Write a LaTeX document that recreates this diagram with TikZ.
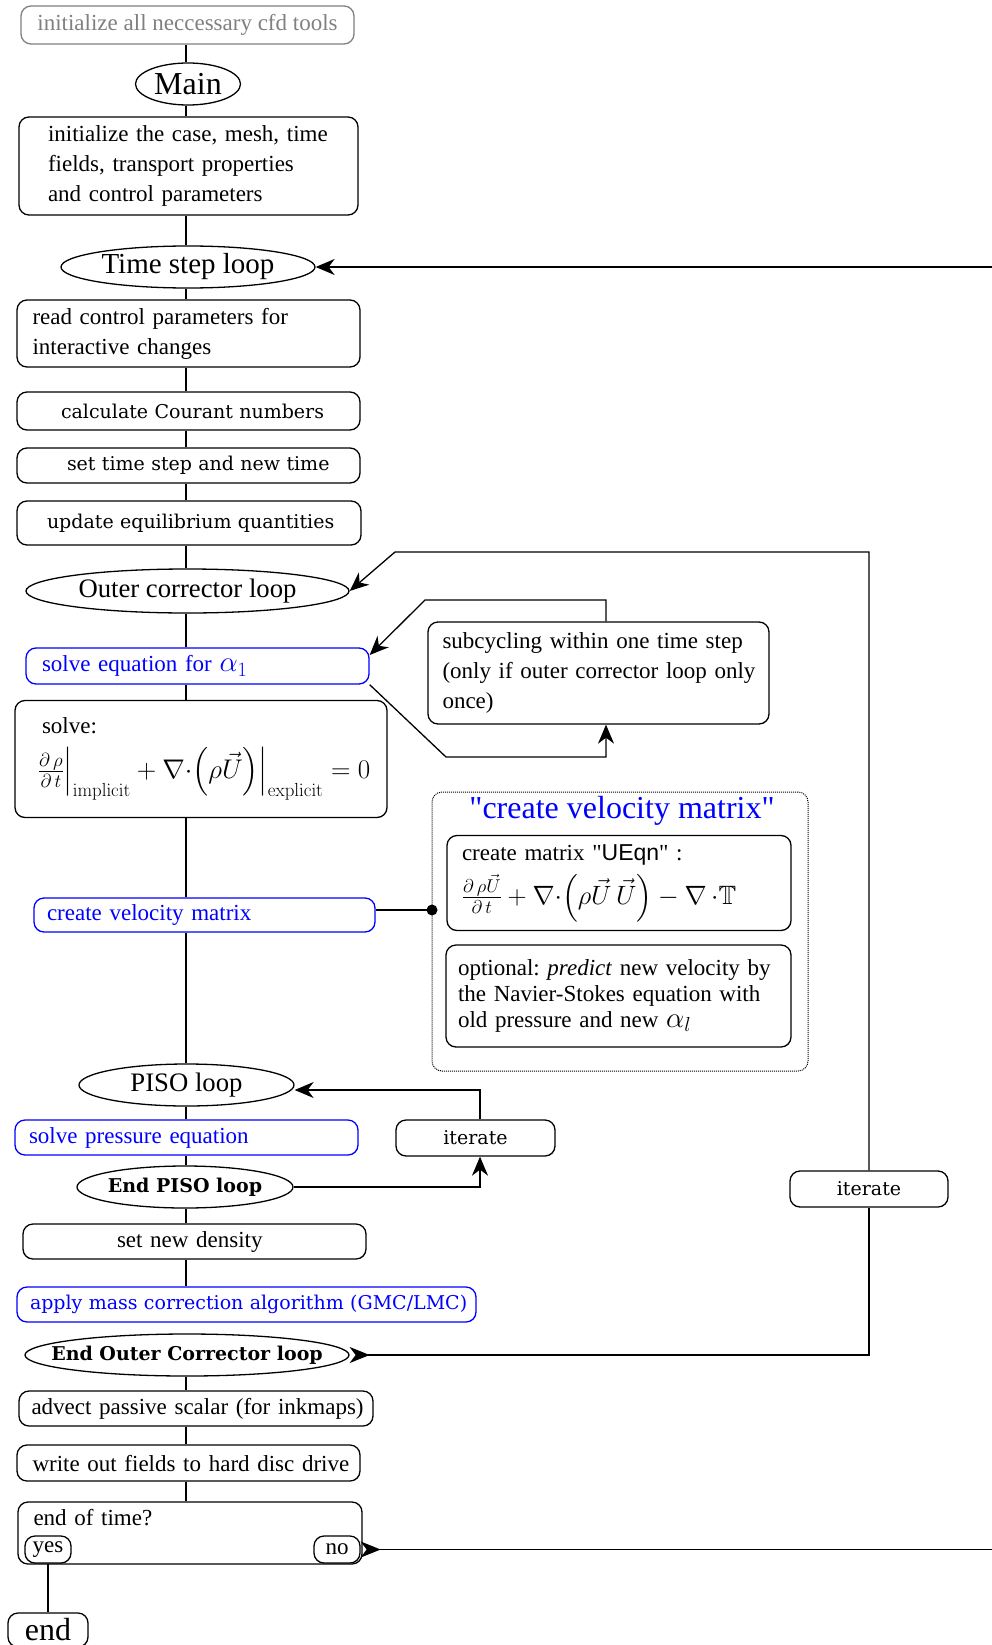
\documentclass[tikz,border=0pt]{standalone}
\usepackage{fix-cm}
\usepackage{amsmath,amssymb}
\usepackage[no-math]{fontspec}
\setmainfont{Liberation Serif}
\newfontfamily\rmq{Liberation Serif}
\newfontfamily\dvs{DejaVu Serif}
\newfontfamily\arl{Liberation Sans}
\usetikzlibrary{shapes.geometric,arrows.meta}
\newcommand\fsz[2]{\fontsize{#1}{#2}\selectfont}
\newcommand\qq{{\rmq"}}
\frenchspacing
\tikzset{
  lw/.style={line width=1.3pt},
  bx/.style={draw, lw, rounded corners=10pt, inner ysep=0pt, align=left},
  el/.style={draw, lw, ellipse, inner sep=0pt},
  tm/.style={font=\fsz{23}{30}},
  dv/.style={font=\dvs\fsz{19}{24}},
  dvb/.style={font=\dvs\bfseries\fsz{19}{24}},
  bl/.style={draw=blue, text=blue},
  arr/.style={lw, -{Stealth[length=19pt,width=16pt,inset=6pt]}},
  tl/.style={lw, {Stealth[length=20pt,width=16pt,inset=6pt,reversed]}-},
}
\begin{document}
\begin{tikzpicture}[x=1pt,y=-1pt]
\useasboundingbox (0,0) rectangle (992,1645);
\coordinate (spine) at (186,0);
\coordinate (redge) at (992,0);

\node[bx, draw=gray, text=gray, tm, align=center, minimum width=333pt, minimum height=38pt] (tools) at (187.5,25) {initialize all neccessary cfd tools};
\node[el, font=\fsz{32}{36}, minimum width=105pt, minimum height=42pt] (main) at (188,84) {Main};
\node[bx, tm, minimum width=339pt, minimum height=98pt, inner xsep=29pt, text width=281pt] (init) at (188.5,166) {\mbox{initialize the case, mesh, time}\\fields, transport properties\\and control parameters};
\node[el, font=\fsz{29}{34}, minimum width=254pt, minimum height=42pt] (tsl) at (188,267) {Time step loop};
\node[bx, tm, minimum width=343pt, minimum height=67pt, inner xsep=15.5pt, text width=312pt] (read) at (188.5,333.5) {read control parameters for\\interactive changes};
\node[bx, dv, minimum width=343pt, minimum height=38pt, inner xsep=44pt, text width=255pt] (calc) at (188.5,411) {\mbox{calculate Courant numbers}};
\node[bx, dv, minimum width=343pt, minimum height=35pt, inner xsep=50pt, text width=243pt] (stime) at (188.5,465.5) {\mbox{set time step and new time}};
\node[bx, dv, minimum width=344pt, minimum height=44pt, inner xsep=30pt, text width=284pt] (upd) at (189,523) {\mbox{update equilibrium quantities}};
\node[el, font=\fsz{26.7}{32}, minimum width=323pt, minimum height=44pt] (oc) at (187.5,591) {Outer corrector loop};
\node[bx, bl, tm, minimum width=343pt, minimum height=36pt, inner xsep=16pt, text width=311pt] (seq) at (197.5,666) {\mbox{solve equation for {\fsz{29}{30}$\alpha_1$}}};
\node[bx, tm, minimum width=341pt, minimum height=102pt, inner xsep=14.5pt, text width=312pt] (sub) at (598.5,673) {\mbox{subcycling within one time step}\\\mbox{(only if outer corrector loop only}\\once)};
\node[bx, tm, minimum width=372pt, minimum height=117pt, inner xsep=12pt, text width=348pt] (solve) at (201,759) {\hspace*{15pt}solve:\\[12pt]\hspace*{11pt}\mbox{\fsz{27}{32}$\frac{\partial\,\rho}{\partial\,t}\Big|_{\mathrm{implicit}}+\nabla{\cdot}\Big(\rho\vec{U}\Big)\Big|_{\mathrm{explicit}}=0$}};
\node[bx, bl, tm, minimum width=341pt, minimum height=34pt, inner xsep=13pt, text width=315pt] (cvm) at (204.5,915) {\mbox{create velocity matrix}};
\coordinate (dot) at (432,910);
\node[draw, densely dotted, line width=1pt, rounded corners=10pt, minimum width=376pt, minimum height=279pt, inner sep=0pt] (cont) at (620,931.5) {};
\node[text=blue, font=\fsz{32}{36}, inner sep=0pt] (ctitle) at (622,811) {\qq create velocity matrix\qq};
\node[bx, tm, minimum width=344pt, minimum height=95pt, inner xsep=12pt, text width=320pt] (ueqn) at (619,883) {\hspace*{3pt}create matrix \qq{\arl UEqn}\qq\ :\\[8pt]\hspace*{3pt}\mbox{\fsz{26.5}{30}$\frac{\partial\,\rho\vec{U}}{\partial\,t}+\nabla{\cdot}\Big(\rho\vec{U}\,\vec{U}\Big)-\nabla\,{\cdot}\mathbb{T}$}};
\node[bx, font=\fsz{23}{26}, minimum width=345pt, minimum height=102pt, inner xsep=12pt, text width=321pt] (pred) at (618.5,996) {\mbox{optional: \textit{predict} new velocity by}\\\mbox{the Navier-Stokes equation with}\\\mbox{old pressure and new {\fsz{29}{26}$\alpha_l$}}};
\node[el, font=\fsz{26.7}{32}, minimum width=215pt, minimum height=42pt] (piso) at (186.5,1085) {PISO loop};
\node[bx, bl, tm, minimum width=343pt, minimum height=35pt, inner xsep=14pt, text width=315pt] (sp) at (186.5,1137.5) {\mbox{solve pressure equation}};
\node[bx, dv, align=center, minimum width=159pt, minimum height=36pt] (it1) at (475.5,1138) {iterate};
\node[el, dvb, inner xsep=-30pt, minimum width=216pt, minimum height=42pt] (episo) at (185,1187) {End PISO loop};
\node[bx, tm, minimum width=343pt, minimum height=35pt, inner xsep=94pt, text width=155pt] (snd) at (194.5,1241.5) {\mbox{set new density}};
\node[bx, bl, dv, minimum width=459pt, minimum height=35pt, inner xsep=13pt, text width=433pt] (amc) at (246.5,1304.5) {\mbox{apply mass correction algorithm (GMC/LMC)}};
\node[el, dvb, inner xsep=-60pt, minimum width=324pt, minimum height=42pt] (eoc) at (187,1355) {End Outer Corrector loop};
\node[bx, dv, align=center, minimum width=158pt, minimum height=36pt] (it2) at (869,1189) {iterate};
\node[bx, tm, minimum width=354pt, minimum height=35pt, inner xsep=12.5pt, text width=329pt] (adv) at (196,1408.5) {\mbox{advect passive scalar (for inkmaps)}};
\node[bx, tm, minimum width=343pt, minimum height=36pt, inner xsep=15.5pt, text width=312pt] (wrt) at (188.5,1463) {\mbox{write out fields to hard disc drive}};
\node[bx, tm, minimum width=344pt, minimum height=62pt, inner xsep=15.5pt, text width=313pt, text height=16pt, text depth=31pt] (eot) at (190,1533) {end of time?};
\node[bx, tm, align=center, inner sep=0pt, minimum width=46pt, minimum height=27pt] (yes) at (48,1549.5) {yes};
\node[bx, tm, align=center, inner sep=0pt, minimum width=46pt, minimum height=27pt] (no) at (337,1549.5) {no};
\node[bx, font=\fsz{32}{36}, align=center, inner sep=0pt, minimum width=80pt, minimum height=34pt] (endn) at (48,1630) {end};

\foreach \a/\b in {tools/main, main/init, init/tsl, tsl/read, read/calc, calc/stime, stime/upd, upd/oc, oc/seq, seq/solve, solve/cvm, cvm/piso, piso/sp, sp/episo, episo/snd, snd/amc, eoc/adv, adv/wrt, wrt/eot}
  \draw[lw] (\a.south -| spine) -- (\b.north -| spine);

\draw[arr] (tsl.east -| redge) -- (tsl.east);
\coordinate (ocr) at (395,552);
\draw[tl] (eoc.east) -| (it2.south);
\draw[arr] (it2.north) |- (ocr) -- (oc.east);
\coordinate (s1) at (425,600);
\coordinate (s2) at (446,757);
\draw[arr] ([xshift=7.5pt]sub.north) |- (s1) -- ([yshift=11pt]seq.east);
\draw[arr] (seq.south east) -- (s2) -| ([xshift=7.5pt]sub.south);
\draw[arr] ([xshift=4.5pt]it1.north) |- ([yshift=-5pt]piso.east);
\draw[arr] (episo.east) -| ([xshift=4.5pt]it1.south);
\draw[lw] (dot -| cvm.east) -- (dot);
\fill (dot) circle (5.5pt);
\draw[tl] (no.east) -- (no.east -| redge);
\draw[lw] (yes.south) -- (endn.north -| yes.south);
\end{tikzpicture}
\end{document}
